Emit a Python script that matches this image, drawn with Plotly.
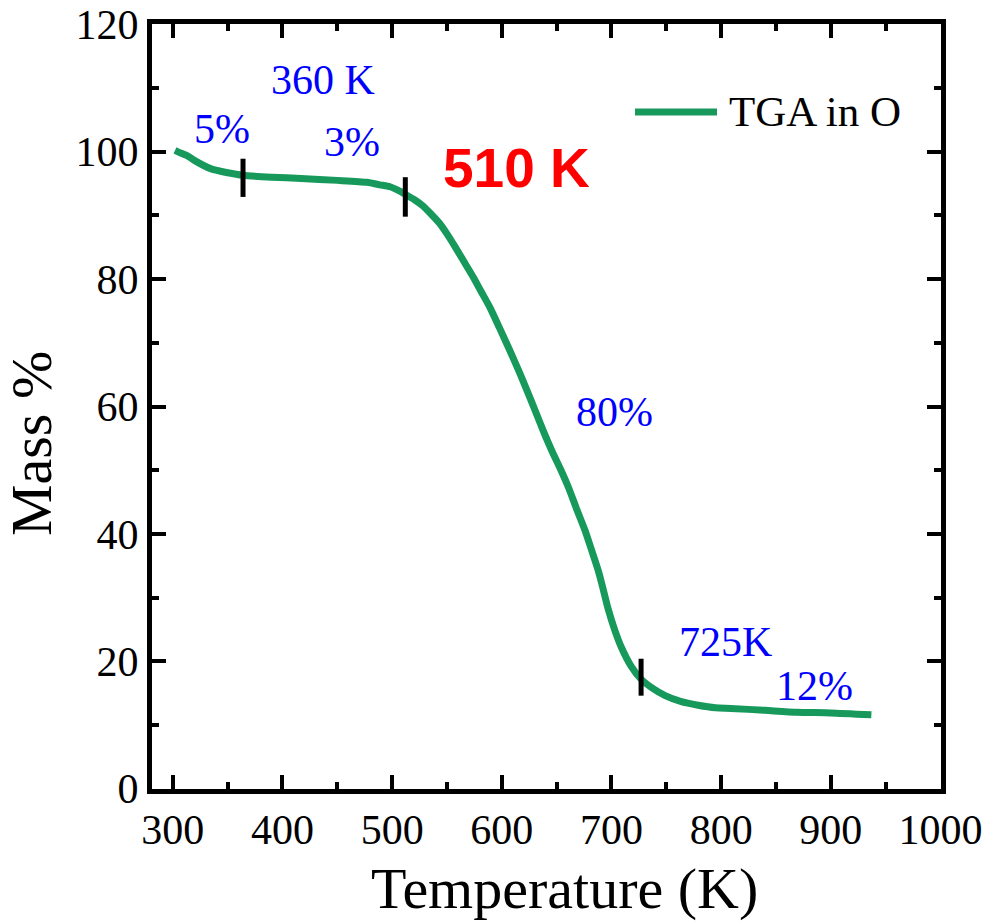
import plotly.graph_objects as go

# ---- data ----
temperature_K = [302, 307, 313, 320, 335, 350, 364, 390, 417, 450, 477, 489, 498, 507,
                 512, 520, 528, 535, 543, 550, 558, 566, 574, 581, 589, 598, 607, 616,
                 623, 631, 638, 646, 654, 661, 668, 676, 681, 688, 692, 697, 703, 709,
                 718, 727, 738, 749, 763, 779, 795, 809, 840, 869, 900, 937]
mass_pct = [100.2, 99.8, 99.4, 98.6, 97.3, 96.7, 96.3, 96.0, 95.8, 95.5, 95.2, 94.8, 94.5, 93.8,
            93.3, 92.5, 91.5, 90.3, 88.8, 87.1, 84.9, 82.6, 80.3, 78.1, 75.6, 72.3, 68.9, 65.4,
            62.5, 59.1, 56.1, 52.9, 50.0, 47.2, 44.0, 40.5, 37.9, 34.2, 31.6, 28.2, 24.9, 22.2,
            19.2, 17.2, 15.7, 14.6, 13.7, 13.1, 12.7, 12.6, 12.3, 12.0, 11.9, 11.6]

marker_T = [364, 512, 727]
marker_low = [92.9, 89.8, 14.6]
marker_high = [98.9, 96.0, 20.4]

x_ticks = [300, 400, 500, 600, 700, 800, 900, 1000]
y_ticks = [0, 20, 40, 60, 80, 100, 120]

series_name = "TGA in O"
GREEN = "#17995c"
SERIF = "Liberation Serif"

fig = go.Figure()
fig.add_trace(go.Scatter(x=temperature_K, y=mass_pct, mode="lines", name=series_name,
                         line=dict(color=GREEN, width=7, shape="spline", smoothing=0.6),
                         showlegend=False))

mx, my = [], []
for t, lo, hi in zip(marker_T, marker_low, marker_high):
    mx += [t, t, None]
    my += [lo, hi, None]
fig.add_trace(go.Scatter(x=mx, y=my, mode="lines", line=dict(color="black", width=5),
                         showlegend=False, hoverinfo="skip"))

axis_common = dict(showline=True, linecolor="black", linewidth=5, mirror="allticks",
                   ticks="inside", ticklen=14, tickwidth=4, tickcolor="black",
                   showgrid=False, zeroline=False, ticklabeloverflow="allow",
                   automargin=False,
                   tickfont=dict(family=SERIF, size=42, color="black"))

fig.update_xaxes(range=[281, 1000.5], tickvals=x_ticks, ticktext=[str(v) for v in x_ticks],
                 minor=dict(ticks="inside", ticklen=7, tickwidth=4, tickcolor="black", dtick=50,
                            tick0=0, showgrid=False),
                 **axis_common)
fig.update_yaxes(range=[-0.05, 120.05], tickvals=y_ticks, ticktext=[str(v) for v in y_ticks],
                 minor=dict(ticks="inside", ticklen=7, tickwidth=4, tickcolor="black", dtick=10,
                            tick0=0, showgrid=False),
                 **axis_common)

blue = dict(family=SERIF, size=42, color="#0000ff")
labels = [
    ("360 K", 437, 111.2),
    ("5%", 345, 103.6),
    ("3%", 463, 101.5),
    ("80%", 703, 59.2),
    ("725K", 804, 23.1),
    ("12%", 885, 16.1),
]
for txt, x, y in labels:
    fig.add_annotation(x=x, y=y, text=txt, showarrow=False, font=blue,
                       xanchor="center", yanchor="middle")

fig.add_annotation(x=613, y=97.4, text="<b>510 K</b>", showarrow=False,
                   font=dict(family="Liberation Sans", size=55, color="#ff0000"),
                   xanchor="center", yanchor="middle")

# legend drawn by hand (long sample line)
fig.add_shape(type="line", xref="paper", yref="paper", x0=0.6122, x1=0.7161, y0=0.885, y1=0.885,
              line=dict(color=GREEN, width=7))
fig.add_annotation(xref="paper", yref="paper", x=0.7288, y=0.885, text=series_name,
                   showarrow=False, xanchor="left", yanchor="middle",
                   font=dict(family=SERIF, size=43, color="black"))

# axis titles
fig.add_annotation(xref="paper", yref="paper", x=0.5234, y=-0.130, text="Temperature (K)",
                   showarrow=False, xanchor="center", yanchor="middle",
                   font=dict(family=SERIF, size=58, color="black"))
fig.add_annotation(xref="paper", yref="paper", x=-0.152, y=0.451, text="Mass %",
                   showarrow=False, xanchor="center", yanchor="middle", textangle=-90,
                   font=dict(family=SERIF, size=58, color="black"))

fig.update_layout(width=986, height=922, margin=dict(l=152, r=45, t=24, b=133),
                  plot_bgcolor="white", paper_bgcolor="white", showlegend=False)

fig.write_html("out.html")
